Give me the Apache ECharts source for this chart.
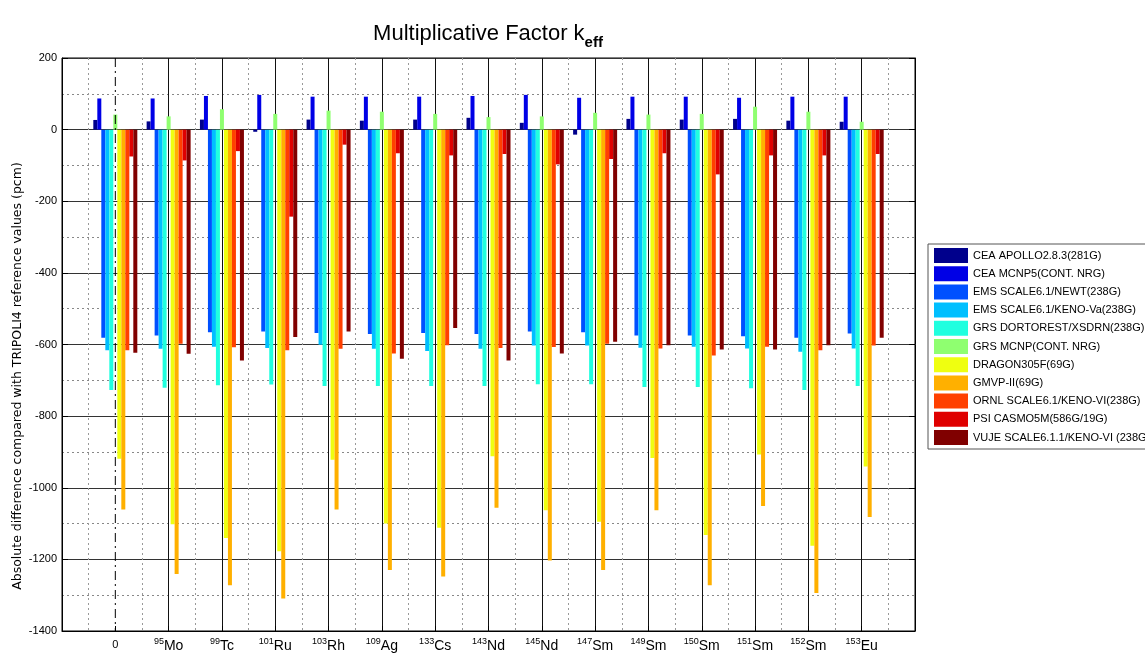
<!DOCTYPE html>
<html>
<head>
<meta charset="utf-8">
<script src="https://cdn.jsdelivr.net/npm/echarts@6/dist/echarts.min.js"></script>
<style>
  html, body { margin: 0; padding: 0; background: #fff; }
  #chart { width: 1145px; height: 653px; }
</style>
</head>
<body>
<div id="chart"></div>
<script>
// categories: mass number (superscript) + element
const masses   = ['', '95', '99', '101', '103', '109', '133', '143', '145', '147', '149', '150', '151', '152', '153'];
const elements = ['0', 'Mo', 'Tc', 'Ru', 'Rh', 'Ag', 'Cs', 'Nd', 'Nd', 'Sm', 'Sm', 'Sm', 'Sm', 'Sm', 'Eu'];

const seriesNames = [
  'CEA APOLLO2.8.3(281G)',
  'CEA MCNP5(CONT. NRG)',
  'EMS SCALE6.1/NEWT(238G)',
  'EMS SCALE6.1/KENO-Va(238G)',
  'GRS DORTOREST/XSDRN(238G)',
  'GRS MCNP(CONT. NRG)',
  'DRAGON305F(69G)',
  'GMVP-II(69G)',
  'ORNL SCALE6.1/KENO-VI(238G)',
  'PSI CASMO5M(586G/19G)',
  'VUJE SCALE6.1.1/KENO-VI (238G)'
];

// values in pcm, one per category
const apollo  = [27, 23, 28, -6, 28, 25, 28, 33, 19, -14, 30, 28, 30, 25, 22];
const mcnp5   = [87, 87, 94, 97, 92, 92, 92, 94, 97, 89, 92, 92, 89, 92, 92];
const newt    = [-581, -575, -566, -564, -568, -571, -568, -571, -564, -566, -575, -575, -577, -581, -569];
const kenoVa  = [-616, -612, -606, -610, -601, -612, -618, -612, -603, -603, -609, -606, -611, -620, -611];
const dort    = [-727, -721, -714, -712, -716, -716, -716, -716, -711, -711, -719, -719, -722, -727, -716];
const grsMcnp = [42, 37, 57, 44, 53, 50, 44, 35, 37, 47, 42, 44, 64, 50, 22];
const dragon  = [-919, -1102, -1140, -1177, -922, -1100, -1112, -912, -1063, -1095, -917, -1132, -907, -1162, -941];
const gmvp    = [-1061, -1241, -1272, -1309, -1061, -1230, -1248, -1056, -1203, -1230, -1063, -1272, -1051, -1294, -1082];
const ornl    = [-616, -598, -608, -616, -612, -625, -602, -610, -607, -598, -611, -631, -606, -616, -603];
const psi     = [-75, -86, -60, -243, -42, -66, -72, -68, -97, -82, -66, -125, -72, -72, -68];
const vuje    = [-623, -626, -645, -579, -564, -640, -554, -645, -625, -592, -602, -614, -614, -602, -581];

const allValues = [apollo, mcnp5, newt, kenoVa, dort, grsMcnp, dragon, gmvp, ornl, psi, vuje];

const colors = ['#00008c', '#0000e6', '#0050ff', '#00bfff', '#20ffdf',
                '#8fff70', '#efff10', '#ffb000', '#ff4000', '#df0000', '#800000'];

// slots of the x grid, from -1 to 15 (used only for the vertical grid lines)
const gridSlots = ['-1', '0', '1', '2', '3', '4', '5', '6', '7', '8', '9', '10', '11', '12', '13', '14', '15'];

const font = 'Liberation Sans, Arial, sans-serif';

let myChart = echarts.init(document.getElementById('chart'));

let series = [];
for (let i = 0; i < allValues.length; i++) {
  series.push({
    name: seriesNames[i],
    type: 'bar',
    barWidth: 4,
    barGap: '0%',
    itemStyle: { color: colors[i] },
    data: allValues[i].map(function (v, k) { return [k, v]; })
  });
}
// dash-dot line at the reference category, drawn over the bars
series.push({
  type: 'line',
  silent: true,
  symbol: 'none',
  z: 10,
  lineStyle: { color: '#000', width: 1, type: [9, 4, 2, 4] },
  data: [[0, 200], [0, -1400]]
});

let option = {
  animation: false,
  title: {
    text: 'Multiplicative Factor k{sub|eff}',
    left: 483,
    textAlign: 'center',
    top: 12,
    textStyle: {
      fontFamily: font, fontSize: 22, fontWeight: 'normal', color: '#000',
      rich: {
        sub: { fontFamily: font, fontSize: 15, fontWeight: 'bold', color: '#000', verticalAlign: 'bottom', padding: [18, 0, 0, 0] }
      }
    }
  },
  legend: {
    orient: 'vertical',
    left: 928,
    top: 244,
    itemWidth: 34,
    itemHeight: 15,
    itemGap: 3.2,
    padding: [4, 20, 4, 6],
    borderColor: '#555',
    borderWidth: 1,
    icon: 'rect',
    textStyle: { fontFamily: font, fontSize: 11, color: '#000' },
    data: seriesNames
  },
  grid: {
    left: 62, right: 230, top: 58, bottom: 19,
    show: true, borderColor: '#000', borderWidth: 1
  },
  xAxis: [{
    type: 'value',
    min: -1, max: 15, interval: 1,
    axisLine: { show: true, onZero: false, lineStyle: { color: '#000' } },
    axisTick: { show: true, inside: true, length: 5, lineStyle: { color: '#000' } },
    minorTick: { show: false, splitNumber: 2 },
    splitLine: { show: false },
    minorSplitLine: { show: true, lineStyle: { color: '#999', type: [2, 3], width: 1 } },
    axisLabel: {
      margin: 6,
      formatter: function (v) {
        const i = Math.round(v);
        if (i < 0 || i >= elements.length) return '';
        if (!masses[i]) return '{z|' + elements[i] + '}';
        return '{s|' + masses[i] + '}{e|' + elements[i] + '}';
      },
      rich: {
        z: { fontFamily: font, fontSize: 11, color: '#000', lineHeight: 16, verticalAlign: 'middle' },
        s: { fontFamily: font, fontSize: 9, color: '#000', verticalAlign: 'top', lineHeight: 9 },
        e: { fontFamily: font, fontSize: 14, color: '#000', verticalAlign: 'bottom', lineHeight: 16 }
      }
    }
  }, {
    // helper axis: solid vertical grid at every category except the reference one
    type: 'category',
    position: 'bottom',
    boundaryGap: false,
    data: gridSlots,
    axisLine: { show: false, onZero: false },
    axisTick: { show: false },
    axisLabel: { show: false },
    splitLine: {
      show: true,
      interval: function (idx) { return idx > 1 && idx < gridSlots.length - 1; },
      lineStyle: { color: '#111', width: 1 }
    }
  }],
  yAxis: [{
    type: 'value',
    min: -1400, max: 200, interval: 200,
    axisLine: { show: true, onZero: false, lineStyle: { color: '#000' } },
    axisTick: { show: true, inside: true, length: 6, lineStyle: { color: '#000' } },
    minorTick: { show: false, splitNumber: 2 },
    splitLine: { show: true, lineStyle: { color: '#333', width: 1 } },
    minorSplitLine: { show: true, lineStyle: { color: '#888', type: [2, 3], width: 1 } },
    axisLabel: {
      margin: 5, fontFamily: font, fontSize: 11, color: '#000',
      formatter: function (v) { return String(v); }
    }
  }, {
    type: 'value',
    position: 'right',
    min: -1400, max: 200, interval: 200,
    axisLine: { show: true, onZero: false, lineStyle: { color: '#000' } },
    axisTick: { show: true, inside: true, length: 6, lineStyle: { color: '#000' } },
    axisLabel: { show: false },
    splitLine: { show: false }
  }],
  graphic: [{
    type: 'text',
    x: 18, y: 376,
    rotation: Math.PI / 2,
    style: {
      text: 'Absolute difference compared with TRIPOLI4 reference values (pcm)',
      fontFamily: 'DejaVu Sans, sans-serif',
      fontSize: 12.5,
      fill: '#000',
      align: 'center',
      verticalAlign: 'middle'
    }
  }],
  series: series
};

myChart.setOption(option);
</script>
</body>
</html>
